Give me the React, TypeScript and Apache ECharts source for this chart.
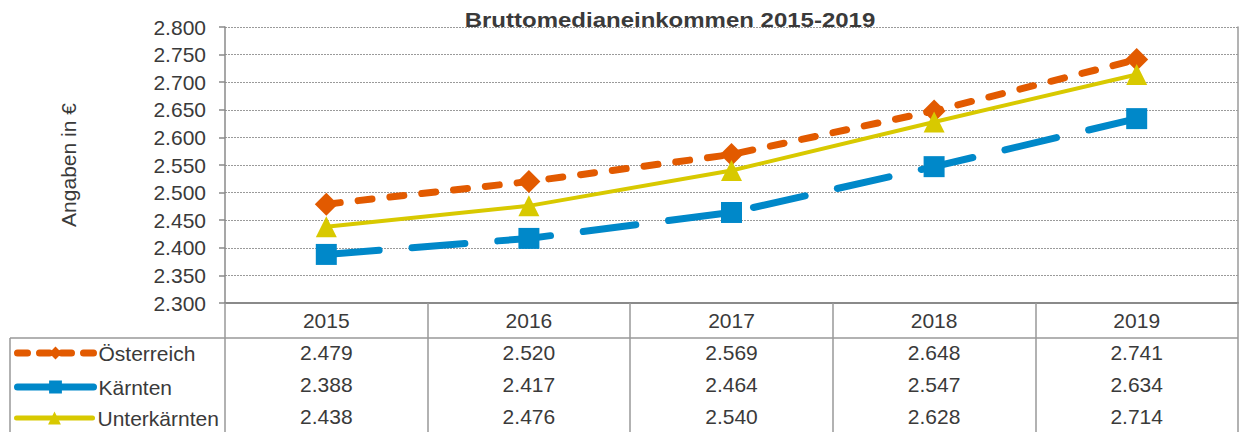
import React, { useEffect, useRef } from "react";
import * as echarts from "echarts";

const categories = ["2015", "2016", "2017", "2018", "2019"];
const seriesNames = ["Österreich", "Kärnten", "Unterkärnten"];
const oesterreich = [2479, 2520, 2569, 2648, 2741];
const kaernten = [2388, 2417, 2464, 2547, 2634];
const unterkaernten = [2438, 2476, 2540, 2628, 2714];
const yMin = 2300;
const yMax = 2800;
const yStep = 50;
const titleText = "Bruttomedianeinkommen 2015-2019";
const yAxisName = "Angaben in €";

const FONT = "'Liberation Sans', Arial, sans-serif";
const TEXT = "#3a3a3a";

const fmt = (v: number) =>
  Math.floor(v / 1000) + "." + String(Math.round(v) % 1000).padStart(3, "0");

export default function App() {
  const ref = useRef<HTMLDivElement>(null);
  useEffect(() => {
    if (!ref.current) return;
    const chart = echarts.init(ref.current, undefined, { renderer: "svg" });
    const allSeries = [oesterreich, kaernten, unterkaernten];
    const legendTops = [337, 371, 402];
    const legendLines = [
      { width: 7, type: [10, 12], cap: "round" },
      { width: 7, type: "solid", cap: "round" },
      { width: 5, type: "solid", cap: "round" },
    ];
    chart.setOption({
      animation: false,
      textStyle: { fontFamily: FONT, color: TEXT },
      grid: { left: 225, right: 8, top: 27, bottom: 125, containLabel: false },
      legend: seriesNames.map((n, i) => ({
        orient: "vertical",
        left: 9,
        top: legendTops[i],
        itemWidth: 76,
        itemHeight: 16,
        data: [n],
        lineStyle: legendLines[i],
        textStyle: { fontFamily: FONT, fontSize: 21, color: TEXT, lineHeight: 22 },
      })),
      graphic: [
        {
          type: "text",
          x: 670,
          y: 20,
          scaleX: 1.2,
          style: {
            text: titleText,
            fontFamily: FONT,
            fontSize: 20,
            fontWeight: "bold",
            fill: TEXT,
            align: "center",
            verticalAlign: "middle",
          },
          z: 100,
        },
        {
          type: "line",
          shape: { x1: 10, y1: 338, x2: 1238, y2: 338 },
          style: { stroke: "#999", lineWidth: 1.5 },
        },
        {
          type: "line",
          shape: { x1: 10, y1: 338, x2: 10, y2: 440 },
          style: { stroke: "#999", lineWidth: 1.5 },
        },
      ],
      xAxis: {
        type: "category",
        data: categories,
        boundaryGap: true,
        axisLine: { lineStyle: { color: "#8a8a8a", width: 2 } },
        axisTick: {
          show: true,
          length: 130,
          interval: 0,
          alignWithLabel: false,
          lineStyle: { color: "#999", width: 1.5 },
        },
        axisLabel: {
          interval: 0,
          margin: 1,
          fontSize: 21,
          lineHeight: 32,
          color: TEXT,
          fontFamily: FONT,
          formatter: (value: string, idx: number) =>
            [value, ...allSeries.map((s) => fmt(s[idx]))].join("\n"),
        },
      },
      yAxis: [
        {
          type: "value",
          min: yMin,
          max: yMax,
          interval: yStep,
          name: yAxisName,
          nameLocation: "middle",
          nameRotate: 90,
          nameGap: 146,
          nameTextStyle: { fontSize: 21, color: TEXT, fontFamily: FONT },
          axisLine: { show: true, lineStyle: { color: "#8a8a8a", width: 1.5 } },
          axisTick: { show: true, length: 6, lineStyle: { color: "#8a8a8a", width: 1.5 } },
          axisLabel: {
            margin: 19,
            fontSize: 21,
            color: TEXT,
            fontFamily: FONT,
            formatter: (v: number) => fmt(v),
          },
          splitLine: { show: true, lineStyle: { color: "#9a9a9a", type: [2, 1], width: 1 } },
        },
        {
          type: "value",
          min: yMin,
          max: yMax,
          interval: yStep,
          position: "right",
          axisLine: { show: true, lineStyle: { color: "#9a9a9a", width: 1.5 } },
          axisTick: { show: false },
          axisLabel: { show: false },
          splitLine: { show: false },
        },
      ],
      series: [
        {
          name: seriesNames[0],
          type: "line",
          data: oesterreich,
          symbol: "diamond",
          symbolSize: 23,
          color: "#E25A00",
          lineStyle: { width: 7, type: [14, 18], cap: "round", color: "#E25A00" },
          itemStyle: { color: "#E25A00" },
        },
        {
          name: seriesNames[1],
          type: "line",
          data: kaernten,
          symbol: "rect",
          symbolSize: 21,
          color: "#0088C9",
          lineStyle: { width: 7, type: [53, 33], cap: "round", color: "#0088C9" },
          itemStyle: { color: "#0088C9" },
        },
        {
          name: seriesNames[2],
          type: "line",
          data: unterkaernten,
          symbol: "triangle",
          symbolSize: 21,
          color: "#D8C900",
          lineStyle: { width: 4, type: "solid", color: "#D8C900" },
          itemStyle: { color: "#D8C900" },
        },
      ],
    });
    return () => chart.dispose();
  }, []);
  return (
    <div
      ref={ref}
      style={{ position: "fixed", left: 0, top: 0, width: 1246, height: 432, background: "#fff" }}
    />
  );
}
